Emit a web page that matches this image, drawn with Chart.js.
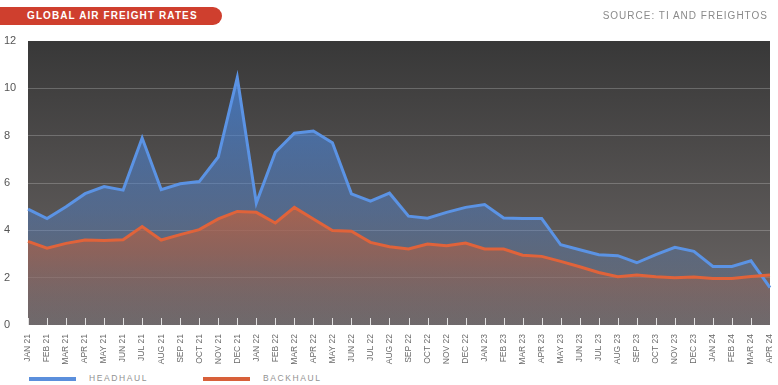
<!DOCTYPE html>
<html>
<head>
<meta charset="utf-8">
<script src="https://cdn.jsdelivr.net/npm/chart.js@4.4.1/dist/chart.umd.min.js"></script>
<style>
    body { margin: 0; background: #fff; font-family: "Liberation Sans", Arial, sans-serif; }
    #wrap { position: relative; width: 778px; height: 385px; overflow: hidden; }
    #title {
        position: absolute; left: 0; top: 7px; width: 222px; height: 18px;
        background: #cf3f2e; border-radius: 0 9px 9px 0;
        color: #fff; font-weight: bold; font-size: 10px; letter-spacing: 1.1px;
        line-height: 18px; padding-left: 27px; box-sizing: border-box;
    }
    #source {
        position: absolute; right: 10px; top: 10px; color: #8a8a8a;
        font-size: 10px; letter-spacing: 1px;
    }
    #chartBox { position: absolute; left: 0; top: 0; width: 778px; height: 370px; }
    .legend { position: absolute; top: 373px; font-size: 8.5px; letter-spacing: 1.6px; color: #929292; }
    .swatch { position: absolute; top: 377px; width: 47px; height: 4px; }
</style>
</head>
<body>
<div id="wrap">
    <div id="chartBox"><canvas id="freightChart"></canvas></div>
    <div id="title">GLOBAL AIR FREIGHT RATES</div>
    <div id="source">SOURCE: TI AND FREIGHTOS</div>
    <div class="swatch" style="left:29px;background:#5b8fdc"></div>
    <div class="legend" style="left:89px">HEADHAUL</div>
    <div class="swatch" style="left:203px;background:#d8603a"></div>
    <div class="legend" style="left:263px">BACKHAUL</div>
</div>
<script>
const months = [
    'JAN 21', 'FEB 21', 'MAR 21', 'APR 21', 'MAY 21', 'JUN 21', 'JUL 21', 'AUG 21', 'SEP 21', 'OCT 21', 'NOV 21', 'DEC 21',
    'JAN 22', 'FEB 22', 'MAR 22', 'APR 22', 'MAY 22', 'JUN 22', 'JUL 22', 'AUG 22', 'SEP 22', 'OCT 22', 'NOV 22', 'DEC 22',
    'JAN 23', 'FEB 23', 'MAR 23', 'APR 23', 'MAY 23', 'JUN 23', 'JUL 23', 'AUG 23', 'SEP 23', 'OCT 23', 'NOV 23', 'DEC 23',
    'JAN 24', 'FEB 24', 'MAR 24', 'APR 24'
];

const headhaul = [
    4.9, 4.5, 5.0, 5.55, 5.85, 5.7, 7.9, 5.72, 5.97, 6.06, 7.1, 10.45,
    5.15, 7.3, 8.1, 8.2, 7.7, 5.54, 5.23, 5.57, 4.6, 4.51, 4.76, 4.97,
    5.09, 4.52, 4.5, 4.5, 3.39, 3.18, 2.97, 2.93, 2.63, 2.97, 3.28, 3.11,
    2.47, 2.47, 2.71, 1.58
];

const backhaul = [
    3.53, 3.25, 3.45, 3.59, 3.57, 3.6, 4.16, 3.59, 3.82, 4.03, 4.48, 4.8,
    4.76, 4.31, 4.97, 4.48, 3.99, 3.96, 3.49, 3.31, 3.21, 3.42, 3.35, 3.46,
    3.21, 3.21, 2.95, 2.9, 2.69, 2.46, 2.22, 2.04, 2.11, 2.04, 2.0, 2.03,
    1.96, 1.96, 2.05, 2.11
];

const yTicks = [0, 2, 4, 6, 8, 10, 12];

// vertical gradient over the plot area
function areaGradient(ctx, area, stops) {
    const g = ctx.createLinearGradient(0, area.top, 0, area.bottom);
    stops.forEach(s => g.addColorStop(s[0], s[1]));
    return g;
}

// dark panel behind the plot + little tick marks inside the bottom edge
const panelPlugin = {
    id: 'panel',
    beforeDraw(chart) {
        const { ctx, chartArea } = chart;
        ctx.save();
        ctx.fillStyle = areaGradient(ctx, chartArea, [[0, '#383838'], [1, '#6d6867']]);
        ctx.fillRect(chartArea.left, chartArea.top, chartArea.right - chartArea.left, chartArea.bottom - chartArea.top);
        ctx.restore();
    },
    afterDatasetsDraw(chart) {
        const { ctx, chartArea } = chart;
        const x = chart.scales.x;
        ctx.save();
        ctx.strokeStyle = 'rgba(255,255,255,0.8)';
        ctx.lineWidth = 1;
        ctx.beginPath();
        x.ticks.forEach((t, i) => {
            const px = Math.round(x.getPixelForTick(i)) + 0.5;
            ctx.moveTo(px, chartArea.bottom - 7);
            ctx.lineTo(px, chartArea.bottom);
        });
        ctx.stroke();
        ctx.restore();
    }
};

new Chart(document.getElementById('freightChart'), {
    type: 'line',
    data: {
        labels: months,
        datasets: [
            {
                label: 'Backhaul',
                data: backhaul,
                borderColor: '#e0633a',
                borderWidth: 3,
                pointRadius: 0,
                tension: 0,
                fill: 'origin',
                backgroundColor: (c) => {
                    const area = c.chart.chartArea;
                    if (!area) return 'transparent';
                    return areaGradient(c.chart.ctx, area, [
                        [0.45, 'rgba(214,98,52,0.85)'],
                        [0.75, 'rgba(170,95,70,0.6)'],
                        [1, 'rgba(120,100,96,0.3)']
                    ]);
                }
            },
            {
                label: 'Headhaul',
                data: headhaul,
                borderColor: '#5b93e4',
                borderWidth: 3,
                pointRadius: 0,
                tension: 0,
                fill: 'origin',
                backgroundColor: (c) => {
                    const area = c.chart.chartArea;
                    if (!area) return 'transparent';
                    return areaGradient(c.chart.ctx, area, [
                        [0.1, 'rgba(70,135,225,0.75)'],
                        [0.6, 'rgba(80,130,205,0.45)'],
                        [1, 'rgba(100,120,150,0.2)']
                    ]);
                }
            }
        ]
    },
    options: {
        responsive: true,
        maintainAspectRatio: false,
        animation: false,
        layout: { padding: { left: 4, right: 0, top: 41, bottom: 0 } },
        plugins: {
            legend: { display: false },
            tooltip: { enabled: false },
            filler: { drawTime: 'beforeDatasetsDraw' }
        },
        scales: {
            x: {
                offset: false,
                grid: { display: false },
                border: { display: false },
                afterFit: (s) => { s.height = 45; s.paddingRight = 8; },
                ticks: {
                    color: '#6a6a6a',
                    font: { family: 'Liberation Sans', size: 8.5 },
                    minRotation: 90,
                    maxRotation: 90,
                    autoSkip: false,
                    padding: 1
                }
            },
            y: {
                min: 0,
                max: 12,
                afterFit: (s) => { s.width = 24; },
                afterBuildTicks: (s) => { s.ticks = yTicks.map(v => ({ value: v })); },
                grid: {
                    color: (c) => (c.tick.value === 0 || c.tick.value === 12) ? 'transparent' : 'rgba(255,255,255,0.22)',
                    drawTicks: false
                },
                border: { display: false },
                ticks: {
                    color: '#555',
                    font: { family: 'Liberation Sans', size: 11 },
                    crossAlign: 'far',
                    padding: 4
                }
            }
        }
    },
    plugins: [panelPlugin]
});
</script>
</body>
</html>
